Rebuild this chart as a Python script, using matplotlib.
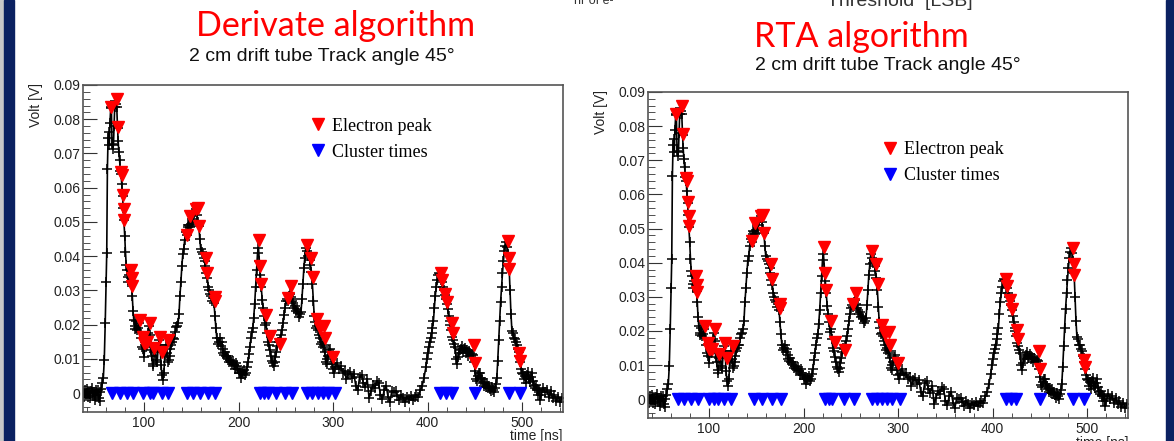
"""
Drift tube waveform, derivative vs RTA peak finding (slide screenshot redraw).
"""

import matplotlib

matplotlib.use("Agg")
import matplotlib.pyplot as plt
from matplotlib.patches import Rectangle
from matplotlib.ticker import MultipleLocator, FuncFormatter

# waveform samples, time [ns]
wave_time = [
    36, 37, 38, 39, 40, 41, 42, 43, 44, 45,
    46, 47, 48, 49, 50, 51, 52, 53, 54, 55,
    56, 57, 58, 59, 60, 60.6, 61.3, 62, 62.6, 63.3,
    64, 64.8, 65.5, 66.2, 67, 67.7, 68.4, 69, 69.8, 70.5,
    71.2, 72, 72.7, 73.4, 74.2, 75, 75.8, 76.5, 77.3, 78,
    78.8, 79.6, 80.4, 81.2, 82, 82.8, 83.6, 84.4, 85.2, 86,
    86.8, 87.6, 88.4, 89.2, 90, 91, 92, 93, 94, 95,
    96, 97, 98, 99, 100, 101, 102, 103, 104, 105,
    106, 107, 108, 109, 110, 111, 112, 113, 114, 115,
    116, 117, 118, 119, 120, 121, 122, 123, 124, 125,
    126, 127, 128, 129, 130, 131, 132, 133, 134, 135,
    136, 137, 138, 139, 140, 141, 142, 143, 144, 145,
    146, 147, 148, 149, 150, 151, 152, 153, 154, 155,
    156, 157, 158, 159, 160, 161, 162, 163, 164, 165,
    166, 167, 168, 169, 170, 171, 172, 173, 174, 175,
    176, 177, 178, 179, 180, 181, 182, 183, 184, 185,
    186, 187, 188, 189, 190, 191, 192, 193, 194, 195,
    196, 197, 198, 199, 200, 201, 202, 203, 204, 205,
    206, 207, 208, 209, 210, 211, 212, 213, 214, 215,
    216, 217, 218, 219, 220, 221, 222, 223, 224, 225,
    226, 227, 228, 229, 230, 231, 232, 233, 234, 235,
    236, 237, 238, 239, 240, 241, 242, 243, 244, 245,
    246, 247, 248, 249, 250, 251, 252, 253, 254, 255,
    256, 257, 258, 259, 260, 261, 262, 263, 264, 265,
    266, 267, 268, 269, 270, 271, 272, 273, 274, 275,
    276, 277, 278, 279, 280, 281, 282, 283, 284, 285,
    286, 287, 288, 289, 290, 291, 292, 293, 294, 295,
    296, 297, 298, 299, 300, 301, 302, 304, 306, 308,
    310, 312, 314, 316, 318, 320, 322, 324, 326, 328,
    330, 332, 334, 336, 338, 340, 342, 344, 346, 348,
    350, 352, 354, 356, 358, 360, 362, 364, 366, 368,
    370, 372, 374, 376, 378, 380, 382, 384, 386, 388,
    390, 392, 394, 396, 398, 399, 400, 401, 402, 403,
    404, 405, 406, 407, 408, 409, 410, 411, 412, 413,
    414, 415, 416, 417, 418, 419, 420, 421, 422, 423,
    424, 425, 426, 427, 428, 429, 430, 431, 432, 433,
    434, 435, 436, 437, 438, 439, 440, 441, 442, 443,
    444, 445, 446, 447, 448, 449, 450, 451, 452, 453,
    454, 455, 456, 457, 458, 459, 460, 461, 462, 463,
    464, 465, 466, 467, 468, 469, 470, 471, 472, 473,
    474, 475, 476, 477, 478, 479, 480, 481, 482, 483,
    484, 485, 486, 487, 488, 489, 490, 491, 492, 493,
    494, 495, 496, 497, 498, 499, 500, 501, 502, 503,
    504, 505, 506, 507, 508, 509, 510, 511, 512, 513,
    514, 515, 516, 517, 518, 519, 520, 522, 524, 526,
    528, 530, 532, 534, 536, 538, 540, 542,
]

# waveform samples, Volt [V]
wave_volt = [
    0.0005, -0.0012, 0.0008, -0.0005, 0.0012, -0.0010, 0.0003, -0.0015, 0.0006, 0.0015,
    -0.0008, 0.0004, -0.0020, 0.0010, -0.0006, 0.0008, -0.0015, -0.0022, 0.0002, 0.0012,
    0.0030, 0.0045, 0.0098, 0.0205, 0.0325, 0.0410, 0.0655, 0.0745, 0.0762, 0.0725,
    0.0790, 0.0832, 0.0835, 0.0728, 0.0712, 0.0725, 0.0780, 0.0835, 0.0852, 0.0845,
    0.0835, 0.0775, 0.0735, 0.0705, 0.0680, 0.0650, 0.0640, 0.0610, 0.0575, 0.0540,
    0.0505, 0.0460, 0.0412, 0.0375, 0.0360, 0.0338, 0.0325, 0.0345, 0.0360, 0.0335,
    0.0318, 0.0285, 0.0240, 0.0215, 0.0195, 0.0188, 0.0210, 0.0185, 0.0190, 0.0205,
    0.0178, 0.0160, 0.0135, 0.0128, 0.0105, 0.0142, 0.0135, 0.0150, 0.0175, 0.0195,
    0.0170, 0.0125, 0.0108, 0.0085, 0.0078, 0.0120, 0.0130, 0.0098, 0.0092, 0.0135,
    0.0155, 0.0142, 0.0082, 0.0052, 0.0038, 0.0058, 0.0115, 0.0140, 0.0118, 0.0092,
    0.0098, 0.0110, 0.0128, 0.0140, 0.0150, 0.0160, 0.0158, 0.0178, 0.0192, 0.0195,
    0.0205, 0.0230, 0.0285, 0.0325, 0.0370, 0.0405, 0.0420, 0.0448, 0.0470, 0.0462,
    0.0485, 0.0492, 0.0490, 0.0485, 0.0495, 0.0510, 0.0500, 0.0525, 0.0530, 0.0538,
    0.0520, 0.0500, 0.0488, 0.0450, 0.0420, 0.0412, 0.0405, 0.0395, 0.0385, 0.0370,
    0.0350, 0.0335, 0.0310, 0.0300, 0.0290, 0.0285, 0.0270, 0.0278, 0.0262, 0.0225,
    0.0190, 0.0160, 0.0145, 0.0150, 0.0160, 0.0138, 0.0148, 0.0130, 0.0118, 0.0112,
    0.0120, 0.0108, 0.0102, 0.0110, 0.0092, 0.0098, 0.0090, 0.0085, 0.0095, 0.0082,
    0.0070, 0.0088, 0.0078, 0.0072, 0.0058, 0.0065, 0.0060, 0.0045, 0.0062, 0.0055,
    0.0068, 0.0052, 0.0060, 0.0075, 0.0090, 0.0115, 0.0135, 0.0160, 0.0178, 0.0190,
    0.0220, 0.0260, 0.0310, 0.0360, 0.0408, 0.0425, 0.0385, 0.0345, 0.0310, 0.0272,
    0.0250, 0.0225, 0.0198, 0.0205, 0.0175, 0.0150, 0.0140, 0.0125, 0.0110, 0.0095,
    0.0088, 0.0080, 0.0092, 0.0105, 0.0120, 0.0138, 0.0150, 0.0148, 0.0155, 0.0170,
    0.0185, 0.0205, 0.0228, 0.0250, 0.0268, 0.0275, 0.0270, 0.0285, 0.0290, 0.0280,
    0.0275, 0.0268, 0.0262, 0.0250, 0.0255, 0.0240, 0.0245, 0.0235, 0.0222, 0.0230,
    0.0238, 0.0275, 0.0320, 0.0365, 0.0395, 0.0425, 0.0415, 0.0400, 0.0408, 0.0390,
    0.0375, 0.0355, 0.0320, 0.0270, 0.0225, 0.0208, 0.0190, 0.0195, 0.0185, 0.0170,
    0.0160, 0.0145, 0.0150, 0.0135, 0.0140, 0.0120, 0.0092, 0.0085, 0.0100, 0.0110,
    0.0125, 0.0130, 0.0105, 0.0085, 0.0070, 0.0058, 0.0075, 0.0088, 0.0070, 0.0078,
    0.0060, 0.0065, 0.0040, 0.0055, 0.0062, 0.0045, 0.0055, 0.0020, 0.0008, 0.0048,
    0.0052, 0.0030, 0.0018, 0.0040, -0.0015, 0.0005, 0.0025, 0.0015, 0.0035, 0.0030,
    -0.0005, -0.0018, 0.0010, 0.0022, -0.0010, -0.0025, 0.0005, 0.0002, 0.0005, -0.0008,
    -0.0020, -0.0005, -0.0015, -0.0025, -0.0010, -0.0018, -0.0008, -0.0020, -0.0012, -0.0005,
    -0.0010, 0.0008, 0.0020, 0.0045, 0.0075, 0.0100, 0.0118, 0.0135, 0.0148, 0.0160,
    0.0175, 0.0190, 0.0210, 0.0250, 0.0285, 0.0310, 0.0330, 0.0345, 0.0352, 0.0348,
    0.0330, 0.0325, 0.0310, 0.0300, 0.0288, 0.0275, 0.0260, 0.0245, 0.0225, 0.0210,
    0.0200, 0.0185, 0.0165, 0.0155, 0.0145, 0.0135, 0.0100, 0.0085, 0.0105, 0.0118,
    0.0125, 0.0130, 0.0138, 0.0120, 0.0128, 0.0132, 0.0118, 0.0125, 0.0120, 0.0110,
    0.0122, 0.0118, 0.0108, 0.0115, 0.0112, 0.0090, 0.0065, 0.0042, 0.0035, 0.0050,
    0.0060, 0.0058, 0.0045, 0.0040, 0.0030, 0.0032, 0.0020, 0.0028, 0.0018, 0.0030,
    0.0015, 0.0022, 0.0012, 0.0005, 0.0018, 0.0008, 0.0002, 0.0015, 0.0028, 0.0045,
    0.0095, 0.0155, 0.0210, 0.0265, 0.0310, 0.0350, 0.0385, 0.0415, 0.0430, 0.0442,
    0.0428, 0.0405, 0.0370, 0.0300, 0.0230, 0.0182, 0.0175, 0.0160, 0.0158, 0.0148,
    0.0140, 0.0128, 0.0120, 0.0110, 0.0090, 0.0070, 0.0060, 0.0055, 0.0040, 0.0050,
    0.0030, 0.0052, 0.0062, 0.0040, 0.0032, 0.0048, 0.0058, 0.0035, 0.0022, 0.0015,
    0.0025, 0.0012, 0.0008, -0.0005, 0.0010, -0.0020, -0.0005, 0.0015, 0.0002, 0.0008,
    -0.0010, 0.0005, -0.0015, -0.0005, -0.0022, -0.0010, -0.0025, -0.0015,
]

# electron peaks (same in both panels)
peak_time = [
    65.4, 71.4, 72.2, 76.0, 76.7, 77.8, 78.5, 79.2, 86.0, 87.0, 87.6,
    96.0, 98.9, 100.0, 101.5, 103.0, 106.0, 110.2, 117.3, 118.7, 125.4,
    145.5, 148.3, 155.4, 157.0, 158.2, 165.3, 166.7, 174.7, 175.5,
    221.3, 222.4, 224.1, 228.8, 233.0, 243.6, 252.4, 255.9,
    272.5, 276.4, 278.2, 283.4, 286.2, 290.5, 291.5, 300.3,
    414.0, 415.0, 418.7, 420.2, 425.5, 426.6, 448.8, 450.0,
    484.4, 485.5, 486.2, 496.6, 498.0,
]
peak_volt = [
    0.0835, 0.0860, 0.0776, 0.0647, 0.0638, 0.0578, 0.0537, 0.0507, 0.0360, 0.0335, 0.0314,
    0.0214, 0.0165, 0.0146, 0.0146, 0.0148, 0.0205, 0.0132, 0.0165, 0.0121, 0.0155,
    0.0463, 0.0517, 0.0537, 0.0540, 0.0488, 0.0395, 0.0352, 0.0280, 0.0268,
    0.0446, 0.0370, 0.0319, 0.0229, 0.0168, 0.0145, 0.0278, 0.0312,
    0.0434, 0.0395, 0.0338, 0.0216, 0.0190, 0.0196, 0.0160, 0.0107,
    0.0352, 0.0331, 0.0291, 0.0265, 0.0204, 0.0175, 0.0140, 0.0089,
    0.0444, 0.0395, 0.0363, 0.0116, 0.0094,
]

# cluster times, drawn on the 0 V line
cluster_time_derivate = [
    66, 74.5, 81.5, 88.5, 99, 106, 109.5, 119.5, 125.5,
    145, 152, 159, 168, 175, 223, 227, 231, 240, 249, 256,
    272, 277.5, 283.5, 289, 295, 302, 413, 419, 425.5, 450, 485.5, 498,
]
cluster_time_rta = [
    67, 74, 81, 88, 100.5, 105.5, 109, 116, 123,
    147.5, 156.5, 167, 176, 223, 226.5, 230, 242.5, 253,
    272, 277.5, 283, 288, 293.5, 301.5, 414.5, 419.5, 425, 449.5, 484.5, 497,
]
cluster_volt = 0.0

panel_titles = ["Derivate algorithm", "RTA algorithm"]
subtitle = "2 cm drift tube Track angle 45\u00b0"
legend_labels = ["Electron peak", "Cluster times"]

W, H = 1174, 441
NAVY = "#0b2161"
SANS = "Liberation Sans"


def fx(px):
    return px / W


def fy(py):
    return 1 - py / H


def draw_panel(fig, rect, clusters, legend_xy, ylab_x, xlab_y):
    ax = fig.add_axes(rect)
    ax.plot(wave_time, wave_volt, color="black", lw=1.2, marker="+",
            ms=7, mew=1.1, zorder=2)
    red, = ax.plot(peak_time, peak_volt, ls="none", marker="v", ms=9,
                   color="#ff0000", mec="#ff0000", zorder=3)
    blue, = ax.plot(clusters, [cluster_volt] * len(clusters), ls="none",
                    marker="v", ms=9, color="#0000ff", mec="#0000ff",
                    zorder=3)
    ax.set_xlim(35.5, 543)
    ax.set_ylim(-0.0055, 0.09)

    ax.xaxis.set_major_locator(MultipleLocator(100))
    ax.xaxis.set_minor_locator(MultipleLocator(20))
    ax.yaxis.set_major_locator(MultipleLocator(0.01))
    ax.yaxis.set_minor_locator(MultipleLocator(0.002))
    ax.yaxis.set_major_formatter(
        FuncFormatter(lambda v, p: "0" if abs(v) < 1e-9 else f"{v:.2f}"))
    ax.tick_params(which="both", direction="in", top=False, right=False,
                   labelsize=10, color="#333333", labelcolor="#222222")
    ax.tick_params(axis="y", which="major", length=10, pad=2)
    ax.tick_params(axis="y", which="minor", length=5)
    ax.tick_params(axis="x", which="major", length=7, pad=3)
    ax.tick_params(axis="x", which="minor", length=3.5)
    for lab in ax.get_xticklabels() + ax.get_yticklabels():
        lab.set_fontfamily(SANS)
    for sp in ax.spines.values():
        sp.set_color("#555555")
        sp.set_linewidth(1.2)

    ax.set_ylabel("Volt [V]", loc="top", fontsize=10, family=SANS,
                  color="#222222")
    ax.yaxis.set_label_coords(ylab_x, 1.006)
    ax.set_xlabel("time [ns]", loc="right", fontsize=10, family=SANS,
                  color="#222222")
    ax.xaxis.set_label_coords(1.0, xlab_y)

    ax.legend([red, blue], legend_labels, loc="upper left",
              bbox_to_anchor=legend_xy, frameon=False, handlelength=0.7,
              handletextpad=0.45, borderpad=0, borderaxespad=0,
              labelspacing=0.5, prop={"family": "Liberation Serif",
                                      "size": 13})
    return ax


def main():
    fig = plt.figure(figsize=(W / 100, H / 100), dpi=100)
    fig.patch.set_facecolor("white")

    # slide borders
    fig.patches.append(Rectangle((0, 0), fx(4), 1, transform=fig.transFigure,
                                 color="#c8c8c8", zorder=0))
    fig.patches.append(Rectangle((fx(4), 0), fx(10), 1,
                                 transform=fig.transFigure, color=NAVY,
                                 zorder=0))
    fig.patches.append(Rectangle((fx(1166), 0), fx(8), 1,
                                 transform=fig.transFigure, color=NAVY,
                                 zorder=0))

    # cut-off text from the slide above
    fig.text(fx(594), fy(4), "nr of e-", ha="center", va="baseline",
             fontsize=9, family=SANS, color="#333333")
    fig.text(fx(900), fy(6), "Threshold  [LSB]", ha="center", va="baseline",
             fontsize=14, family=SANS, color="#333333")

    draw_panel(fig, [fx(83), fy(412), fx(480), (412 - 85) / H],
               cluster_time_derivate, (0.476, 0.9), -0.083, -0.052)
    draw_panel(fig, [fx(648), fy(418), fx(480), (418 - 92) / H],
               cluster_time_rta, (0.491, 0.85), -0.083, -0.055)

    fig.text(fx(336), fy(36), panel_titles[0], ha="center", va="baseline",
             fontsize=24.5, family="Lato", color="#ff0000")
    fig.text(fx(322), fy(61), subtitle, ha="center", va="baseline",
             fontsize=14, family=SANS, color="#111111")
    fig.text(fx(861), fy(47), panel_titles[1], ha="center", va="baseline",
             fontsize=24.5, family="Lato", color="#ff0000")
    fig.text(fx(888), fy(70), subtitle, ha="center", va="baseline",
             fontsize=14, family=SANS, color="#111111")

    fig.savefig("out.png", dpi=100)


if __name__ == "__main__":
    main()
